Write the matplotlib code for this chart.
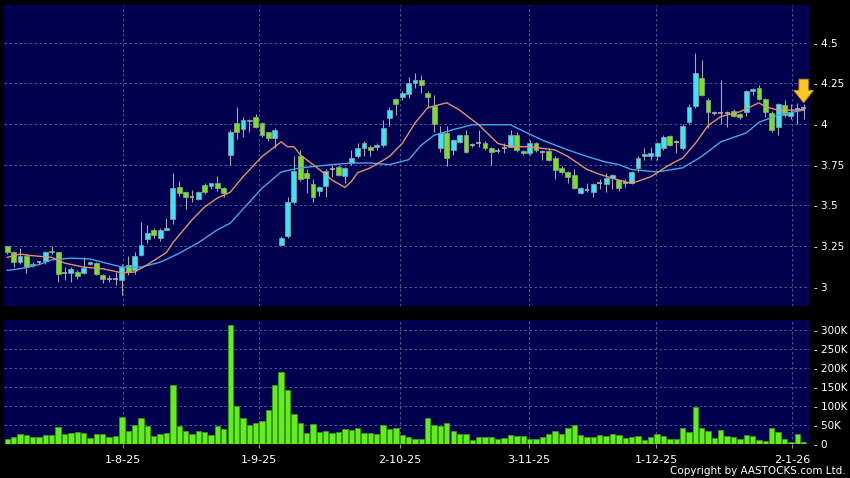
import numpy as np
import matplotlib
matplotlib.use('Agg')
import matplotlib.pyplot as plt

# daily candles, index 0 = first trading day shown
opens = [3.25, 3.21, 3.15, 3.19, 3.14, 3.15, 3.16, 3.22, 3.21, 3.085,
         3.085, 3.09, 3.085, 3.14, 3.145, 3.07, 3.05, 3.05, 3.04, 3.13,
         3.10, 3.195, 3.29, 3.35, 3.30, 3.35, 3.415, 3.61, 3.58, 3.55,
         3.54, 3.625, 3.62, 3.635, 3.605, 3.81, 4.005, 3.97, 4.025, 4.045,
         4.005, 3.95, 3.915, 3.255, 3.31, 3.52, 3.80, 3.70, 3.63, 3.59,
         3.62, 3.72, 3.735, 3.68, 3.76, 3.80, 3.855, 3.86, 3.86, 3.87,
         4.035, 4.155, 4.165, 4.185, 4.25, 4.27, 4.19, 4.11, 3.85, 3.945,
         3.84, 3.89, 3.93, 3.87, 3.88, 3.885, 3.855, 3.835, 3.85, 3.86,
         3.93, 3.835, 3.82, 3.885, 3.83, 3.835, 3.79, 3.73, 3.705, 3.685,
         3.575, 3.595, 3.58, 3.635, 3.63, 3.67, 3.655, 3.64, 3.635, 3.73,
         3.80, 3.80, 3.80, 3.85, 3.925, 3.89, 3.85, 4.01, 4.11, 4.28,
         4.15, 4.07, 4.07, 4.065, 4.08, 4.06, 4.075, 4.20, 4.22, 4.155,
         4.07, 3.98, 4.115, 4.05, 4.09, 4.10]
highs = [3.25, 3.22, 3.24, 3.20, 3.15, 3.16, 3.22, 3.25, 3.21, 3.12,
         3.12, 3.10, 3.18, 3.16, 3.15, 3.08, 3.07, 3.09, 3.14, 3.19,
         3.21, 3.40, 3.38, 3.36, 3.36, 3.42, 3.70, 3.65, 3.59, 3.595,
         3.59, 3.64, 3.64, 3.68, 3.61, 3.96, 4.105, 4.04, 4.03, 4.06,
         4.01, 3.95, 3.975, 3.31, 3.55, 3.80, 3.84, 3.72, 3.66, 3.62,
         3.72, 3.75, 3.75, 3.735, 3.84, 3.88, 3.895, 3.87, 3.88, 4.025,
         4.105, 4.16, 4.20, 4.29, 4.31, 4.30, 4.20, 4.18, 3.99, 3.99,
         3.91, 3.94, 3.965, 3.88, 3.96, 3.895, 3.86, 3.85, 3.88, 3.96,
         3.95, 3.84, 3.90, 3.89, 3.84, 3.85, 3.80, 3.74, 3.71, 3.72,
         3.61, 3.64, 3.64, 3.66, 3.70, 3.69, 3.66, 3.66, 3.71, 3.80,
         3.855, 3.86, 3.89, 3.93, 3.93, 3.90, 4.00, 4.12, 4.435, 4.39,
         4.16, 4.08, 4.27, 4.08, 4.09, 4.065, 4.21, 4.22, 4.24, 4.16,
         4.08, 4.13, 4.15, 4.12, 4.13, 4.12]
lows = [3.20, 3.12, 3.14, 3.085, 3.12, 3.14, 3.14, 3.20, 3.03, 3.04,
        3.03, 3.05, 3.08, 3.13, 3.07, 3.02, 3.03, 3.01, 2.95, 3.07,
        3.08, 3.19, 3.27, 3.30, 3.28, 3.35, 3.385, 3.56, 3.48, 3.52,
        3.53, 3.57, 3.60, 3.59, 3.55, 3.75, 3.91, 3.92, 3.95, 3.975,
        3.92, 3.895, 3.85, 3.255, 3.30, 3.51, 3.65, 3.575, 3.52, 3.56,
        3.55, 3.675, 3.68, 3.64, 3.75, 3.79, 3.80, 3.80, 3.84, 3.86,
        3.99, 4.055, 4.15, 4.16, 4.22, 4.19, 4.10, 3.95, 3.83, 3.74,
        3.81, 3.88, 3.82, 3.86, 3.86, 3.84, 3.75, 3.82, 3.82, 3.86,
        3.83, 3.81, 3.81, 3.83, 3.78, 3.77, 3.66, 3.69, 3.64, 3.60,
        3.57, 3.58, 3.55, 3.60, 3.58, 3.60, 3.59, 3.61, 3.63, 3.705,
        3.78, 3.78, 3.78, 3.84, 3.865, 3.82, 3.84, 4.00, 4.10, 4.17,
        3.975, 4.055, 4.00, 3.98, 4.04, 4.03, 4.05, 4.18, 4.15, 4.04,
        3.95, 3.93, 4.04, 4.03, 4.00, 4.03]
closes = [3.21, 3.15, 3.19, 3.12, 3.13, 3.15, 3.21, 3.21, 3.08, 3.085,
          3.11, 3.065, 3.115, 3.15, 3.08, 3.05, 3.05, 3.05, 3.12, 3.09,
          3.19, 3.255, 3.33, 3.32, 3.35, 3.36, 3.605, 3.575, 3.55, 3.55,
          3.58, 3.58, 3.635, 3.605, 3.575, 3.95, 3.95, 4.025, 4.015, 3.98,
          3.93, 3.915, 3.965, 3.30, 3.52, 3.71, 3.66, 3.67, 3.55, 3.61,
          3.71, 3.72, 3.685, 3.73, 3.79, 3.855, 3.885, 3.84, 3.87, 3.975,
          4.085, 4.12, 4.19, 4.25, 4.27, 4.24, 4.165, 4.00, 3.945, 3.79,
          3.90, 3.93, 3.83, 3.87, 3.88, 3.85, 3.83, 3.835, 3.85, 3.93,
          3.84, 3.82, 3.88, 3.84, 3.83, 3.78, 3.715, 3.705, 3.675, 3.605,
          3.605, 3.595, 3.63, 3.635, 3.67, 3.685, 3.605, 3.64, 3.705, 3.79,
          3.815, 3.82, 3.885, 3.92, 3.87, 3.89, 3.99, 4.105, 4.31, 4.18,
          4.075, 4.07, 4.07, 4.065, 4.05, 4.04, 4.20, 4.215, 4.155, 4.075,
          3.965, 4.12, 4.055, 4.075, 4.09, 4.10]

# volume in thousands of shares
volumes = [13, 17, 24, 22, 17, 17, 23, 23, 44, 24,
           28, 31, 28, 14, 24, 25, 17, 19, 70, 32,
           48, 67, 46, 19, 24, 29, 155, 46, 32, 26,
           34, 31, 22, 45, 39, 313, 98, 67, 48, 54,
           60, 89, 154, 189, 142, 78, 54, 27, 51, 30,
           33, 27, 30, 39, 35, 40, 29, 28, 24, 48,
           39, 40, 23, 16, 13, 13, 68, 50, 46, 54,
           32, 25, 25, 10, 18, 18, 18, 13, 15, 22,
           21, 21, 13, 12, 16, 26, 32, 26, 41, 49,
           23, 16, 16, 22, 21, 25, 22, 15, 17, 19,
           10, 16, 25, 21, 13, 13, 41, 31, 97, 41,
           33, 15, 36, 21, 18, 12, 22, 19, 9, 7,
           41, 30, 13, 5, 25, 3]

# moving averages (index, value)
ma_short_idx = [0, 2, 4, 7, 9, 12, 15, 18, 20, 22, 25, 26, 29, 31, 33, 35,
                37, 40, 43, 44, 45, 46, 49, 51, 53, 54, 55, 57, 60, 62, 64,
                66, 69, 71, 74, 77, 79, 82, 86, 88, 91, 93, 96, 98, 101,
                104, 106, 108, 110, 112, 115, 118, 119, 121, 124, 125]
ma_short_val = [3.18, 3.20, 3.19, 3.18, 3.145, 3.12, 3.11, 3.085, 3.09, 3.135,
                3.21, 3.27, 3.41, 3.49, 3.545, 3.58, 3.675, 3.80, 3.89, 3.86,
                3.86, 3.81, 3.72, 3.655, 3.61, 3.645, 3.70, 3.73, 3.80, 3.88,
                4.005, 4.10, 4.13, 4.085, 3.995, 3.88, 3.86, 3.86, 3.84, 3.80,
                3.72, 3.69, 3.655, 3.635, 3.675, 3.75, 3.79, 3.88, 3.99, 4.045,
                4.075, 4.13, 4.105, 4.085, 4.085, 4.09]
ma_long_idx = [0, 2, 5, 7, 10, 13, 15, 18, 21, 24, 27, 30, 33, 35, 40, 43,
               46, 51, 54, 57, 60, 63, 65, 67, 70, 73, 79, 80, 84, 88, 91,
               94, 96, 98, 102, 106, 109, 112, 116, 118, 121, 123, 125]
ma_long_val = [3.10, 3.11, 3.135, 3.165, 3.175, 3.17, 3.15, 3.12, 3.12, 3.15,
               3.205, 3.27, 3.35, 3.39, 3.605, 3.705, 3.73, 3.75, 3.76, 3.76,
               3.75, 3.78, 3.87, 3.93, 3.965, 3.995, 3.995, 3.975, 3.90, 3.84,
               3.80, 3.765, 3.75, 3.72, 3.705, 3.73, 3.80, 3.89, 3.945, 4.01,
               4.055, 4.07, 4.085]

date_labels = ['1-8-25', '1-9-25', '2-10-25', '3-11-25', '1-12-25', '2-1-26']
date_pos = [18.2, 39.5, 61.6, 81.9, 101.9, 123.2]
price_ticks = [3, 3.25, 3.5, 3.75, 4, 4.25, 4.5]
vol_ticks = [0, 50, 100, 150, 200, 250, 300]

navy = '#00004e'
grid_col = '#66669a'
up_col = '#36e6f6'
down_col = '#74e41e'

fig = plt.figure(figsize=(8.5, 4.78), dpi=100, facecolor='black')
ax = fig.add_axes([4 / 850, 1 - 306 / 478, 806 / 850, 301 / 478])
axv = fig.add_axes([4 / 850, 1 - 443.5 / 478, 806 / 850, 124 / 478])

o = np.array(opens)
h = np.array(highs)
l = np.array(lows)
c = np.array(closes)
x = np.arange(len(o))

for a in (ax, axv):
    a.set_facecolor(navy)
    a.set_xlim(-0.5, 126)
    for s in a.spines.values():
        s.set_visible(False)
    a.yaxis.tick_right()
    a.tick_params(axis='y', length=0, pad=3, colors='white', labelsize=7.5)

# price panel
ax.set_ylim(2.881, 4.731)
ax.set_yticks(price_ticks)
ax.set_yticklabels(['- ' + ('%g' % t) for t in price_ticks])
ax.set_xticks(date_pos)
ax.tick_params(axis='x', length=0, labelbottom=False)
ax.grid(True, color=grid_col, linestyle=(0, (3, 3)), linewidth=0.6)
ax.set_axisbelow(True)

ax.vlines(x, l, h, color='#a8a8a8', linewidth=0.8, zorder=2)
up = c > o
down = c < o
flat = c == o
w = 0.76
ax.bar(x[up], c[up] - o[up], bottom=o[up], width=w, color=up_col,
       edgecolor='#8a9a9a', linewidth=0.6, zorder=3)
ax.bar(x[down], o[down] - c[down], bottom=c[down], width=w, color=down_col,
       edgecolor='#8a9a8a', linewidth=0.6, zorder=3)
ax.hlines(c[flat], x[flat] - w / 2, x[flat] + w / 2, color='#b0b0b0',
          linewidth=1.2, zorder=3)

ax.plot(ma_long_idx, ma_long_val, color='#4aa6e6', linewidth=1.0, zorder=4)
ax.plot(ma_short_idx, ma_short_val, color='#e2926c', linewidth=1.0, zorder=4)

# marker arrow above the last candle
last = len(c) - 1
ax.annotate('', xy=(last, h[last] + 0.01), xytext=(0, 17), textcoords='offset points',
            arrowprops=dict(arrowstyle='simple,head_length=0.6,head_width=0.95,tail_width=0.45',
                            mutation_scale=15, fc='#ffc820', ec='#c88a00', lw=0.6,
                            shrinkA=0, shrinkB=0), zorder=6)

# volume panel
axv.bar(x, volumes, width=0.84, color='#62ee1c', edgecolor='#3c9a14',
        linewidth=0.6, zorder=3)
axv.set_ylim(0, 328)
axv.set_yticks(vol_ticks)
axv.set_yticklabels(['- ' + (str(t) + 'K' if t else '0') for t in vol_ticks])
axv.set_xticks(date_pos)
axv.set_xticklabels(date_labels)
axv.tick_params(axis='x', length=3, width=0.8, color='#9090a0', pad=5,
                labelcolor='white', labelsize=8)
axv.grid(True, color=grid_col, linestyle=(0, (3, 3)), linewidth=0.6)
axv.set_axisbelow(True)

fig.text(846 / 850, 1 - 471 / 478, 'Copyright by AASTOCKS.com Ltd.', color='white',
         fontsize=7.5, ha='right', va='center')

plt.savefig('out.png', dpi=100, facecolor='black')
